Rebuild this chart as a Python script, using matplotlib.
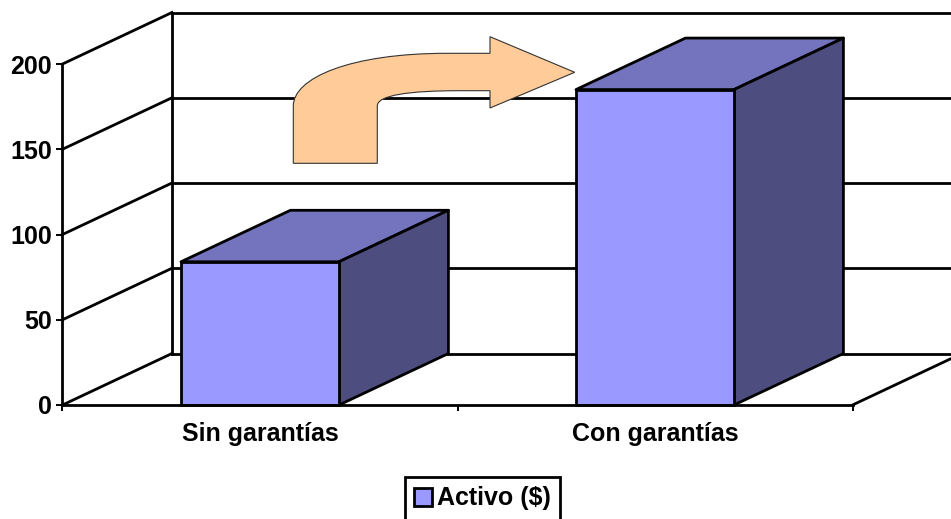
import numpy as np
import matplotlib
matplotlib.use("Agg")
import matplotlib.pyplot as plt
from matplotlib.patches import Patch, PathPatch, Polygon
from matplotlib.path import Path

plt.rcParams['font.family'] = ['Liberation Sans', 'DejaVu Sans']

categories = ["Sin garantías", "Con garantías"]
activo = [84, 185]
y_ticks = [0, 50, 100, 150, 200]
series_name = "Activo ($)"

W, H = 951, 519
FRONT = "#9999FF"
TOP = "#7474BE"
SIDE = "#4D4D80"
ARROW = "#FFCC99"
LW = 2.0
FS = 18

# depth of the fake 3d box, in data units
depth_x = 0.277
depth_y = 30.2
bar_width = 0.4

fig = plt.figure(figsize=(W/100, H/100), dpi=100)
ax = fig.add_axes([62.5/W, 1-405/H, 790/W, 341/H])
ax.set_xlim(0, 2)
ax.set_ylim(0, 200)
ax.patch.set_visible(False)

# back wall and left wall
for v in y_ticks:
    ax.plot([0, depth_x], [v, v+depth_y], color="k", lw=LW, clip_on=False, zorder=1)
    ax.plot([depth_x, 2+depth_x], [v+depth_y, v+depth_y], color="k", lw=LW, clip_on=False, zorder=1)
ax.plot([depth_x, depth_x], [depth_y, 200+depth_y], color="k", lw=LW, clip_on=False, zorder=1)
ax.plot([2, 2+depth_x], [0, depth_y], color="k", lw=LW, clip_on=False, zorder=1)

# bars
xs = np.arange(len(categories)) + 0.5
ax.bar(xs, activo, width=bar_width, color=FRONT, edgecolor="k", linewidth=LW, clip_on=False, zorder=3)
for x, v in zip(xs, activo):
    l, r = x-bar_width/2, x+bar_width/2
    ax.add_patch(Polygon([(l, v), (r, v), (r+depth_x, v+depth_y), (l+depth_x, v+depth_y)],
                         facecolor=TOP, edgecolor="k", lw=LW, clip_on=False, zorder=2, joinstyle="round"))
    ax.add_patch(Polygon([(r, 0), (r, v), (r+depth_x, v+depth_y), (r+depth_x, depth_y)],
                         facecolor=SIDE, edgecolor="k", lw=LW, clip_on=False, zorder=2, joinstyle="round"))

# axes
for side in ["top", "right"]:
    ax.spines[side].set_visible(False)
for side in ["left", "bottom"]:
    ax.spines[side].set_linewidth(LW)
    ax.spines[side].set_zorder(4)

ax.set_yticks(y_ticks)
ax.set_xticks([0, 1, 2])
ax.set_xticklabels([])
ax.set_xticks(xs, minor=True)
ax.set_xticklabels(categories, minor=True)
ax.tick_params(axis="both", which="major", length=4.5, width=1.4, labelsize=FS)
ax.tick_params(axis="y", pad=3)
ax.tick_params(axis="x", which="minor", length=0, pad=12, labelsize=FS)
for t in ax.get_yticklabels() + ax.get_xticklabels(minor=True):
    t.set_fontweight("bold")

# drawn arrow, placed in pixels like the original shape
arrow_verts = [(293.3, 163.3), (293.3, 106),
               (293.3, 78), (350, 53.3), (447, 53.3),
               (490, 53.3), (490, 36.7), (574.7, 72.3), (490, 108), (490, 90.7), (460, 90.7),
               (410, 90.7), (377.3, 95), (377.3, 106),
               (377.3, 163.3), (293.3, 163.3)]
arrow_codes = [Path.MOVETO, Path.LINETO,
               Path.CURVE4, Path.CURVE4, Path.CURVE4,
               Path.LINETO, Path.LINETO, Path.LINETO, Path.LINETO, Path.LINETO, Path.LINETO,
               Path.CURVE4, Path.CURVE4, Path.CURVE4,
               Path.LINETO, Path.CLOSEPOLY]
arrow_verts = [(x/W, 1-y/H) for x, y in arrow_verts]
fig.add_artist(PathPatch(Path(arrow_verts, arrow_codes), facecolor=ARROW, edgecolor="#333333",
                         lw=0.8, transform=fig.transFigure, zorder=5))

# legend runs past the bottom of the image
handle = Patch(facecolor=FRONT, edgecolor="k", linewidth=2, label=series_name)
leg = fig.legend(handles=[handle], loc="upper left", bbox_to_anchor=(404.5/W, 1-477/H),
                 frameon=True, fancybox=False, edgecolor="k", framealpha=1,
                 handlelength=0.7, handleheight=0.7, handletextpad=0.22, borderpad=0.38,
                 borderaxespad=0, prop={"weight": "bold", "size": FS})
leg.get_frame().set_linewidth(2.0)

fig.savefig("out.png", dpi=100)
